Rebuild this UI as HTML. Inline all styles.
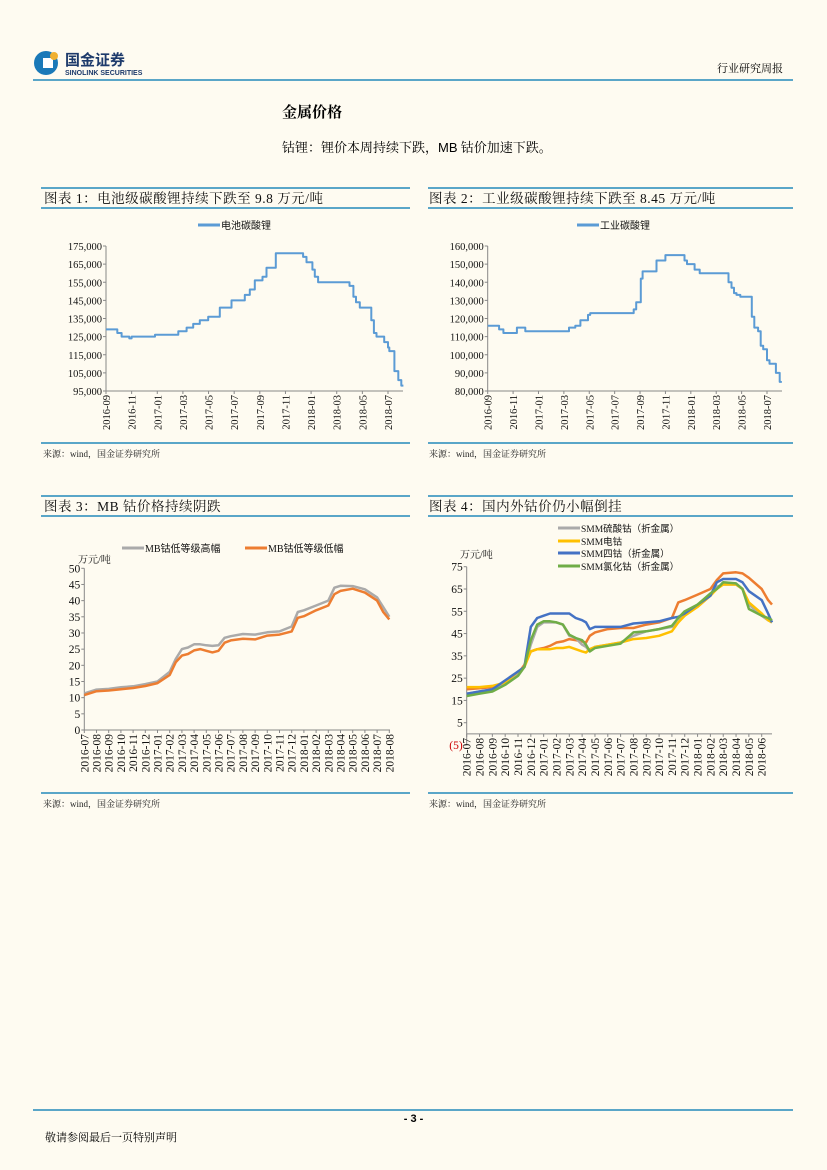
<!DOCTYPE html>
<html><head><meta charset="utf-8"><style>
body{margin:0;background:#fefbf1;font-family:"Liberation Serif","Noto Serif CJK SC",serif;}
#pg{position:relative;width:827px;height:1170px;overflow:hidden;background:#fefbf1;}
.a{position:absolute;white-space:nowrap;}
.hl{position:absolute;height:2px;background:#5aa6c8;}
.ct{position:absolute;font-size:13.5px;line-height:19px;color:#111;letter-spacing:0.5px;}
.src{position:absolute;font-size:9px;color:#222;}
svg{position:absolute;left:0;top:0;}
</style></head><body><div id="pg">
<div class="a" style="left:33px;top:48px;">
<svg width="120" height="30" style="position:relative"><circle cx="13" cy="15" r="12" fill="#1a79b8"/><rect x="10" y="10" width="10" height="10" fill="#fff"/><circle cx="21" cy="8" r="4" fill="#f0b030"/>
<text x="32" y="17" font-size="15" font-weight="bold" font-family="Noto Sans CJK SC,sans-serif" fill="#1d3a6b">国金证券</text>
<text x="32" y="27" font-size="7" font-weight="bold" font-family="Liberation Sans,sans-serif" fill="#1d3a6b">SINOLINK SECURITIES</text></svg></div>
<div class="a" style="right:44px;top:60px;font-size:11px;">行业研究周报</div>
<div class="hl" style="left:33px;width:760px;top:79px;height:1.5px"></div>
<div class="a" style="left:282px;top:101px;font-size:15px;font-weight:bold;">金属价格</div>
<div class="a" style="left:282px;top:137px;font-size:13px;">钴锂：锂价本周持续下跌，<span style="font-family:'Liberation Sans',sans-serif">MB</span> 钴价加速下跌。</div>

<div class="hl" style="left:41px;width:369px;top:187px"></div>
<div class="ct" style="left:44px;top:189px">图表 1：电池级碳酸锂持续下跌至 9.8 万元/吨</div>
<div class="hl" style="left:41px;width:369px;top:207px"></div>
<div class="hl" style="left:41px;width:369px;top:442px"></div>
<div class="src" style="left:43px;top:447px">来源：wind，国金证券研究所</div>

<div class="hl" style="left:428px;width:365px;top:187px"></div>
<div class="ct" style="left:429px;top:189px">图表 2：工业级碳酸锂持续下跌至 8.45 万元/吨</div>
<div class="hl" style="left:428px;width:365px;top:207px"></div>
<div class="hl" style="left:428px;width:365px;top:442px"></div>
<div class="src" style="left:429px;top:447px">来源：wind，国金证券研究所</div>

<div class="hl" style="left:41px;width:369px;top:495px"></div>
<div class="ct" style="left:44px;top:497px">图表 3：MB 钴价格持续阴跌</div>
<div class="hl" style="left:41px;width:369px;top:515px"></div>
<div class="hl" style="left:41px;width:369px;top:792px"></div>
<div class="src" style="left:43px;top:797px">来源：wind，国金证券研究所</div>

<div class="hl" style="left:428px;width:365px;top:495px"></div>
<div class="ct" style="left:429px;top:497px">图表 4：国内外钴价仍小幅倒挂</div>
<div class="hl" style="left:428px;width:365px;top:515px"></div>
<div class="hl" style="left:428px;width:365px;top:792px"></div>
<div class="src" style="left:429px;top:797px">来源：wind，国金证券研究所</div>

<div class="hl" style="left:33px;width:760px;top:1109px;height:1.5px"></div>
<div class="a" style="left:0;width:827px;text-align:center;top:1113px;font-size:11px;font-weight:bold;font-family:'Liberation Sans',sans-serif">- 3 -</div>
<div class="a" style="left:45px;top:1129px;font-size:11px;">敬请参阅最后一页特别声明</div>

<svg id="chart" width="827" height="1170"></svg>
</div>
<script>
// Chart 1 data (month index from 2016-09, step values)
const c1Months=[0,0.88,1.22,1.82,2.0,3.82,5.64,6.29,6.8,7.32,7.97,8.88,9.79,10.83,11.22,11.61,12.21,12.52,13.25,15.38,15.64,16.1,16.29,16.55,19.0,19.3,19.5,19.8,20.7,20.9,21.1,21.7,22.0,22.1,22.5,22.8,23.04];
const c1Values=[129000,127000,125000,124000,125000,126000,128000,130000,132000,134000,136000,141000,145000,148000,151000,156000,158000,163000,171000,169000,166000,162000,158000,155000,153000,147000,144000,141000,134000,127000,125000,122000,119000,117000,106000,101000,98000];
const c1Ticks=["95,000","105,000","115,000","125,000","135,000","145,000","155,000","165,000","175,000"];
const c12XLabels=["2016-09","2016-11","2017-01","2017-03","2017-05","2017-07","2017-09","2017-11","2018-01","2018-03","2018-05","2018-07"];
// Chart 2
const c2Months=[0,0.9,1.24,2.3,2.96,6.4,6.9,7.3,7.9,8.07,11.5,11.7,12.06,12.2,13.3,14.0,15.5,15.7,16.3,16.7,18.97,19.2,19.4,19.6,19.9,20.8,21.0,21.3,21.5,21.7,22.0,22.2,22.7,23.0,23.1];
const c2Values=[116000,114000,112000,115000,113000,115000,116000,119000,122000,123000,125000,129000,142000,146000,152000,155000,152000,150000,147000,145000,140000,137000,134000,133000,132000,121000,115000,113000,105000,103000,97000,95000,90000,85000,84500];
const c2Ticks=["80,000","90,000","100,000","110,000","120,000","130,000","140,000","150,000","160,000"];
// Chart 3 (month index from 2016-07)
const c3Months=[0,1,2,3,4,5,6,7,7.5,8,8.5,9,9.5,10,10.5,11,11.5,12,13,14,15,16,17,17.5,18,19,20,20.5,21,22,23,24,24.5,25];
const c3High=[11.3,12.5,12.7,13.2,13.5,14.2,15,18,22,25,25.5,26.5,26.5,26.2,26,26.2,28.5,29,29.7,29.5,30.2,30.5,32,36.5,37,38.5,40,44,44.6,44.5,43.5,41,38,35];
const c3Low=[10.8,12,12.2,12.6,13,13.6,14.5,17,21,23,23.5,24.6,25,24.5,24,24.5,27,27.7,28.2,28,29.2,29.5,30.5,34.7,35.2,37,38.5,42,43,43.7,42.5,40,36.5,34.2];
const c3Ticks=[0,5,10,15,20,25,30,35,40,45,50];
const c3XLabels=["2016-07","2016-08","2016-09","2016-10","2016-11","2016-12","2017-01","2017-02","2017-03","2017-04","2017-05","2017-06","2017-07","2017-08","2017-09","2017-10","2017-11","2017-12","2018-01","2018-02","2018-03","2018-04","2018-05","2018-06","2018-07","2018-08"];
// Chart 4 (month index from 2016-07)
const c4Months=[0,1,2,3,4,4.5,5,5.5,6,6.5,7,7.5,8,8.5,9,9.3,9.6,10,11,12,13,14,15,16,16.5,17,18,19,19.5,20,21,21.5,22,23,23.5,23.8];
const c4Gray=[18,19,20,23,27,30,40,48,50,50,50,49,44,43,40,39,37,39,40,41,44,46,47,48,50,54,57,62,66,67,67,65,58,53,51,50];
const c4Yellow=[21,21,21.5,23,28,30,37,38,38,38,38.5,38.5,39,38,37,36.5,38,39,40,41,42.5,43,44,46,50,53,57,62,65,67,67,65,59,54,51,50];
const c4Blue=[18,19,20,24,28,30,48,52,53,54,54,54,54,52,51,50,47,48,48,48,49.5,50,50.5,52,52.5,54,58,62,68,69.5,69.5,68,64,60,54,50];
const c4Green=[17,18,19,22,26,30,42,49,50.5,50.5,50,49,44.5,43,42,40,37,38.5,39.5,40.5,45.5,46,47,48.5,52,55,58,63,65,68,67.5,65,56,53,52,51];
const c4Orange=[20,20.5,21,23,27,31,37,38,38.5,39.5,41,41.5,42.5,42,41.5,41,44,45.5,47,47.5,47.5,49,50,52,59,60,62.5,65,69,72,72.5,72,70,65,60,58];
const c4Ticks=[-5,5,15,25,35,45,55,65,75];
const c4XLabels=["2016-07","2016-08","2016-09","2016-10","2016-11","2016-12","2017-01","2017-02","2017-03","2017-04","2017-05","2017-06","2017-07","2017-08","2017-09","2017-10","2017-11","2017-12","2018-01","2018-02","2018-03","2018-04","2018-05","2018-06"];

const NS="http://www.w3.org/2000/svg", S=document.getElementById('chart');
function mk(t,a,txt){const e=document.createElementNS(NS,t);for(const k in a)e.setAttribute(k,a[k]);if(txt!==undefined)e.textContent=txt;S.appendChild(e);return e;}
function lin(d0,d1,r0,r1){return v=>r0+(v-d0)/(d1-d0)*(r1-r0);}
function axes(name,L,R,T,B,yMin,yMax,ticks,tickText,xs,xLabels,xStep,fs){
  const y=lin(yMin,yMax,B,T);
  let e=mk('line',{x1:L,y1:T,x2:L,y2:B,stroke:'#888','stroke-width':1});
  
  
  ticks.forEach((v,i)=>{
    const t=mk('text',{x:L-4,y:y(v)+4,'text-anchor':'end','font-size':fs,fill:v<0?'#c00':'#111'},tickText[i]);
    
    
    mk('line',{x1:L-3,y1:y(v),x2:L,y2:y(v),stroke:'#888'});
  });
  const ay=y(Math.max(yMin,0));
  e=mk('line',{x1:L,y1:ay,x2:R,y2:ay,stroke:'#888','stroke-width':1});
  
  
  xLabels.forEach((lb,i)=>{
    const px=xs(i*xStep);
    mk('line',{x1:px,y1:ay,x2:px,y2:ay+3,stroke:'#888'});
    const t=mk('text',{x:0,y:0,'text-anchor':'end','font-size':fs,fill:'#111',transform:`translate(${px+4},${ay+4}) rotate(-90)`},lb);
    
    
  });
  return y;
}
function line(name,xs,y,months,vals,color,w,step){
  let d='';
  months.forEach((m,i)=>{
    const px=xs(m).toFixed(1),py=y(vals[i]).toFixed(1);
    if(i===0)d+=`M${px},${py}`;else if(step)d+=`H${px}V${py}`;else d+=`L${px},${py}`;
  });
  const p=mk('path',{d:d,fill:'none',stroke:color,'stroke-width':w,'stroke-linejoin':'round'});
  
  
}
function legend(name,x,y,color,label,fs){
  mk('line',{x1:x,y1:y,x2:x+22,y2:y,stroke:color,'stroke-width':3});
  const t=mk('text',{x:x+23,y:y+4,'font-size':fs,fill:'#111','font-family':'Liberation Serif,Noto Sans CJK SC,serif'},label);
  
  
}
// chart1
{const xs=lin(0,22,106,388);
 const y=axes('chart1',106,403,246,391,95000,175000,c1Ticks.map(s=>+s.replace(',','')),c1Ticks,xs,c12XLabels,2,10.5);
 line('chart1-series-line',xs,y,c1Months.concat([23.2]),c1Values.concat([c1Values[c1Values.length-1]]),'#5b9bd5',2,true);
 legend('chart1-legend',198,225,'#5b9bd5','电池碳酸锂',10);}
// chart2
{const xs=lin(0,22,487.7,767);
 const y=axes('chart2',487.7,782,246,391,80000,160000,c2Ticks.map(s=>+s.replace(',','')),c2Ticks,xs,c12XLabels,2,10.5);
 line('chart2-series-line',xs,y,c2Months,c2Values,'#5b9bd5',2,true);
 legend('chart2-legend',577,225,'#5b9bd5','工业碳酸锂',10);}
// chart3
{const xs=lin(0,25,84.3,389.3);
 const y=axes('chart3',84.3,390,568.3,730,0,50,c3Ticks,c3Ticks.map(String),xs,c3XLabels,1,11.5);
 line('chart3-high-line',xs,y,c3Months,c3High,'#aaaaaa',2.5,false);
 line('chart3-low-line',xs,y,c3Months,c3Low,'#ed7d31',2.5,false);
 legend('chart3-legend-high',122,548,'#aaaaaa','MB钴低等级高幅',10);
 legend('chart3-legend-low',245,548,'#ed7d31','MB钴低等级低幅',10);
 const u=mk('text',{x:78,y:563,'font-size':10,fill:'#111'},'万元/吨');
 
 }
// chart4
{const xs=lin(0,23,466.7,761.7);
 const y=axes('chart4',466.7,772,566.7,745,-5,75,c4Ticks,c4Ticks.map(v=>v<0?'('+(-v)+')':String(v)),xs,c4XLabels,1,11.5);
 line('chart4-orange-line',xs,y,c4Months,c4Orange,'#ed7d31',2.5,false);
 line('chart4-gray-line',xs,y,c4Months,c4Gray,'#aaaaaa',2.5,false);
 line('chart4-yellow-line',xs,y,c4Months,c4Yellow,'#ffc000',2.5,false);
 line('chart4-blue-line',xs,y,c4Months,c4Blue,'#4472c4',2.5,false);
 line('chart4-green-line',xs,y,c4Months,c4Green,'#70ad47',2.5,false);
 legend('chart4-legend-gray',558,528,'#aaaaaa','SMM硫酸钴（折金属）',9.5);
 legend('chart4-legend-yellow',558,541,'#ffc000','SMM电钴',9.5);
 legend('chart4-legend-blue',558,553,'#4472c4','SMM四钴（折金属）',9.5);
 legend('chart4-legend-green',558,566,'#70ad47','SMM氯化钴（折金属）',9.5);
 const u=mk('text',{x:460,y:558,'font-size':10,fill:'#111'},'万元/吨');
 
 }
</script></body></html>
